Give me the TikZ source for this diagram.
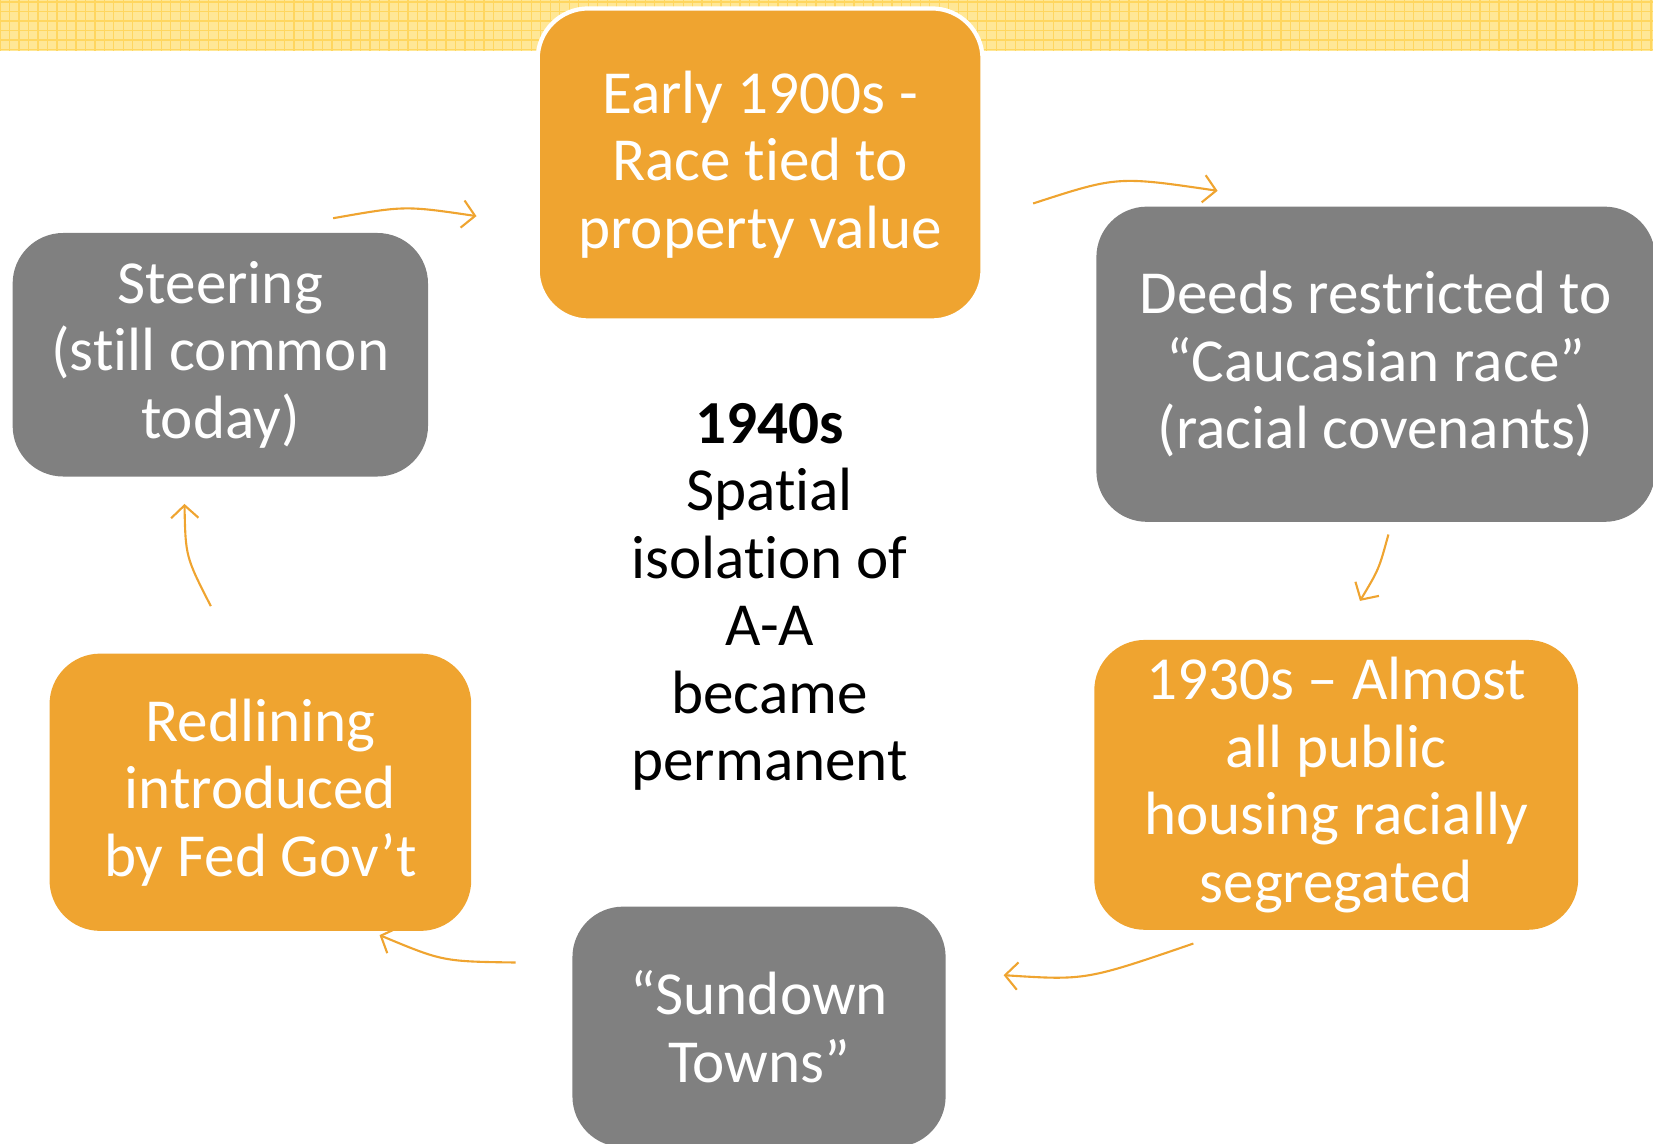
\documentclass[tikz,border=0pt]{standalone}
\usepackage{fontspec}
\setmainfont[Ligatures={NoCommon}]{Carlito}
\usetikzlibrary{arrows.meta}
\definecolor{orng}{RGB}{239,164,48}
\definecolor{gry}{RGB}{128,128,128}
\definecolor{bandfill}{RGB}{255,231,150}
\definecolor{bandline}{RGB}{255,214,95}
\begin{document}
\begin{tikzpicture}[x=1pt,y=-1pt,
  box/.style={rectangle, rounded corners=48pt, text=white, align=center,
    inner sep=0pt, font=\fontsize{58}{64}\selectfont},
  obox/.style={box, fill=orng},
  gbox/.style={box, fill=gry},
  flow/.style={draw=orng, line width=2pt, -{Straight Barb[length=12pt,width=26pt,line width=2pt]}},
  ctext/.style={text=black, align=center, font=\fontsize{58}{64}\selectfont}]
\useasboundingbox (0,0) rectangle (1568,1085);
\clip (0,0) rectangle (1568,1085);
% top band
\fill[bandfill] (0,0) rectangle (1568,48);
\foreach \i in {0,...,175} {
  \draw[bandline, line width=1.2pt] ({\i*9},0) -- ({\i*9},48);
}
\foreach \j in {0,...,5} {
  \draw[bandline, line width=1.2pt] (0,{\j*9+2}) -- (1568,{\j*9+2});
}
% boxes
\node[obox, draw=white, line width=4pt, minimum width=422pt, minimum height=296pt] (early) at (721,156)
  {Early 1900s -\\Race tied to\\property value};
\node[gbox, minimum width=530pt, minimum height=299pt] (deeds) at (1305,345.5)
  {Deeds restricted to\\“Caucasian race”\\(racial covenants)};
\node[obox, minimum width=459pt, minimum height=275pt] (thirties) at (1267.5,744.5)
  {1930s – Almost\\all public\\housing racially\\segregated};
\node[gbox, minimum width=354pt, minimum height=228pt] (sundown) at (720,974)
  {“Sundown\\Towns”};
\node[obox, minimum width=400pt, minimum height=263pt] (redline) at (247,751.5)
  {Redlining\\introduced\\by Fed Gov’t};
\node[gbox, minimum width=394pt, minimum height=231pt] (steering) at (209,336.5)
  {Steering\\(still common\\today)};
\node[ctext] (center) at (730,566)
  {\textbf{1940s}\\Spatial\\isolation of\\A-A\\became\\permanent};
% connector end points
\coordinate (a1s) at (316,207); \coordinate (a1e) at (452,205);
\coordinate (a2s) at (980,193); \coordinate (a2e) at (1155,181);
\coordinate (a3s) at (1317,507); \coordinate (a3e) at (1290,570);
\coordinate (a4s) at (1132,895); \coordinate (a4e) at (952,925);
\coordinate (a5s) at (489,913); \coordinate (a5e) at (360,887);
\coordinate (a6s) at (200,575); \coordinate (a6e) at (175,478);
\draw[flow] (a1s) .. controls (384,195) .. (a1e);
\draw[flow] (a2s) .. controls (1060,167) .. (a2e);
\draw[flow] (a3s) .. controls (1308,540) .. (a3e);
\draw[flow] (a4s) .. controls (1030,930) .. (a4e);
\draw[flow] (a5s) .. controls (420,912) .. (a5e);
\draw[flow] (a6s) .. controls (176,528) .. (a6e);
\end{tikzpicture}
\end{document}
